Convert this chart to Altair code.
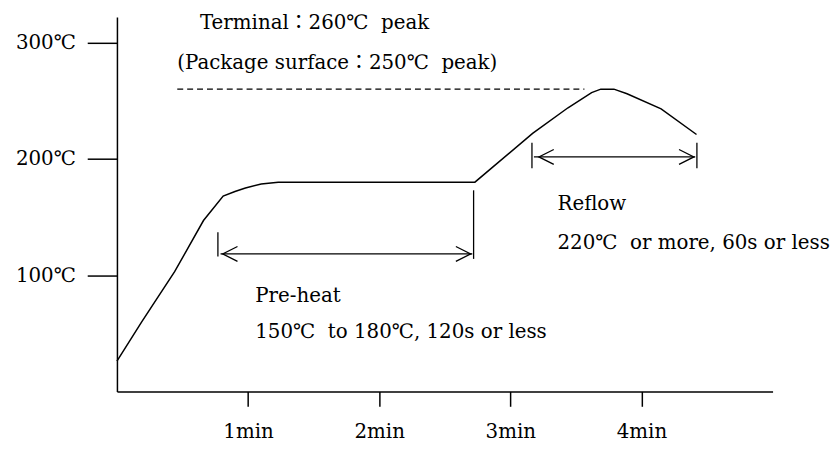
import altair as alt
import pandas as pd

# --- data ---
profile_t = [0.0, 0.19, 0.44, 0.66, 0.81, 0.90, 0.98, 1.10, 1.23, 2.73, 3.17, 3.44, 3.62, 3.69, 3.79, 3.89, 4.15, 4.42]
profile_T = [26, 60, 103, 147, 168, 172, 175, 178.5, 180, 180, 222, 244, 257, 260, 260, 256, 243, 221]

x_ticks = [1, 2, 3, 4]
y_ticks = [100, 200, 300]

# segments: arrows shafts and end bars
seg_t = [0.79, 0.77, 2.72, 3.18, 3.165, 4.423]
seg_t2 = [2.71, 0.77, 2.72, 4.41, 3.165, 4.423]
seg_T = [118.3, 116, 114, 201.7, 192, 192]
seg_T2 = [118.3, 137, 173, 201.7, 214, 214]

dash_t = [0.46]
dash_t2 = [3.565]
dash_T = [260]

head_t = [0.806, 2.698, 3.218, 4.40]
head_T = [118.3, 118.3, 201.7, 201.7]
head_dir = ["left", "right", "left", "right"]

label_t = [0.633, 0.46, 1.055, 1.055, 3.36, 3.36]
label_T = [317, 282.5, 81.7, 51, 160.9, 127.7]
label_text = [
    "Terminal：260℃\u00a0 peak",
    "(Package surface：250℃\u00a0 peak)",
    "Pre-heat",
    "150℃\u00a0 to 180℃, 120s or less",
    "Reflow",
    "220℃\u00a0 or more, 60s or less",
]

FONT = "DejaVu Serif, Noto Sans CJK JP, serif"

xs = alt.Scale(domain=[0, 5], nice=False, zero=False)
ys = alt.Scale(domain=[0, 322], nice=False, zero=False)

prof = pd.DataFrame({"t": profile_t, "T": profile_T})
segs = pd.DataFrame({"t": seg_t, "t2": seg_t2, "T": seg_T, "T2": seg_T2})
dash = pd.DataFrame({"t": dash_t, "t2": dash_t2, "T": dash_T})
heads = pd.DataFrame({"t": head_t, "T": head_T, "dir": head_dir})
labels = pd.DataFrame({"t": label_t, "T": label_T, "text": label_text})

x_axis = alt.Axis(
    values=x_ticks, labelExpr="datum.value + 'min'", title=None, grid=False,
    domainColor="black", domainWidth=1.5, tickColor="black", tickWidth=1.5,
    tickSize=15, labelPadding=16, labelFont=FONT, labelFontSize=20,
    labelColor="black", labelBaseline="top",
)
y_axis = alt.Axis(
    values=y_ticks, labelExpr="datum.value + '℃'", title=None, grid=False,
    domainColor="black", domainWidth=1.5, tickColor="black", tickWidth=1.5,
    tickSize=30, labelPadding=12, labelFont=FONT, labelFontSize=20,
    labelColor="black",
)

curve = alt.Chart(prof).mark_line(color="black", strokeWidth=1.5).encode(
    x=alt.X("t:Q", scale=xs, axis=x_axis),
    y=alt.Y("T:Q", scale=ys, axis=y_axis),
)

seg_layer = alt.Chart(segs).mark_rule(color="black", strokeWidth=1.3).encode(
    x=alt.X("t:Q", scale=xs), x2="t2:Q",
    y=alt.Y("T:Q", scale=ys), y2="T2:Q",
)

dash_layer = alt.Chart(dash).mark_rule(color="black", strokeWidth=1.2, strokeDash=[6, 4]).encode(
    x=alt.X("t:Q", scale=xs), x2="t2:Q",
    y=alt.Y("T:Q", scale=ys),
)

left_heads = alt.Chart(heads).transform_filter("datum.dir == 'left'").mark_point(
    shape="M2,-1L0,0L2,1", filled=False, size=225, strokeWidth=1.3,
    color="black", opacity=1,
).encode(x=alt.X("t:Q", scale=xs), y=alt.Y("T:Q", scale=ys))

right_heads = alt.Chart(heads).transform_filter("datum.dir == 'right'").mark_point(
    shape="M-2,-1L0,0L-2,1", filled=False, size=225, strokeWidth=1.3,
    color="black", opacity=1,
).encode(x=alt.X("t:Q", scale=xs), y=alt.Y("T:Q", scale=ys))

text_layer = alt.Chart(labels).mark_text(
    align="left", baseline="middle", font=FONT, fontSize=20, color="black",
).encode(
    x=alt.X("t:Q", scale=xs), y=alt.Y("T:Q", scale=ys), text="text:N",
)

chart = alt.layer(curve, dash_layer, seg_layer, left_heads, right_heads, text_layer).properties(
    width=662, height=378,
    autosize=alt.AutoSizeParams(type="none"),
    padding={"left": 110, "top": 7, "right": 59, "bottom": 60},
    background="white",
).configure_view(stroke=None)

chart.save("out.html", embed_options={"renderer": "svg", "actions": False})
